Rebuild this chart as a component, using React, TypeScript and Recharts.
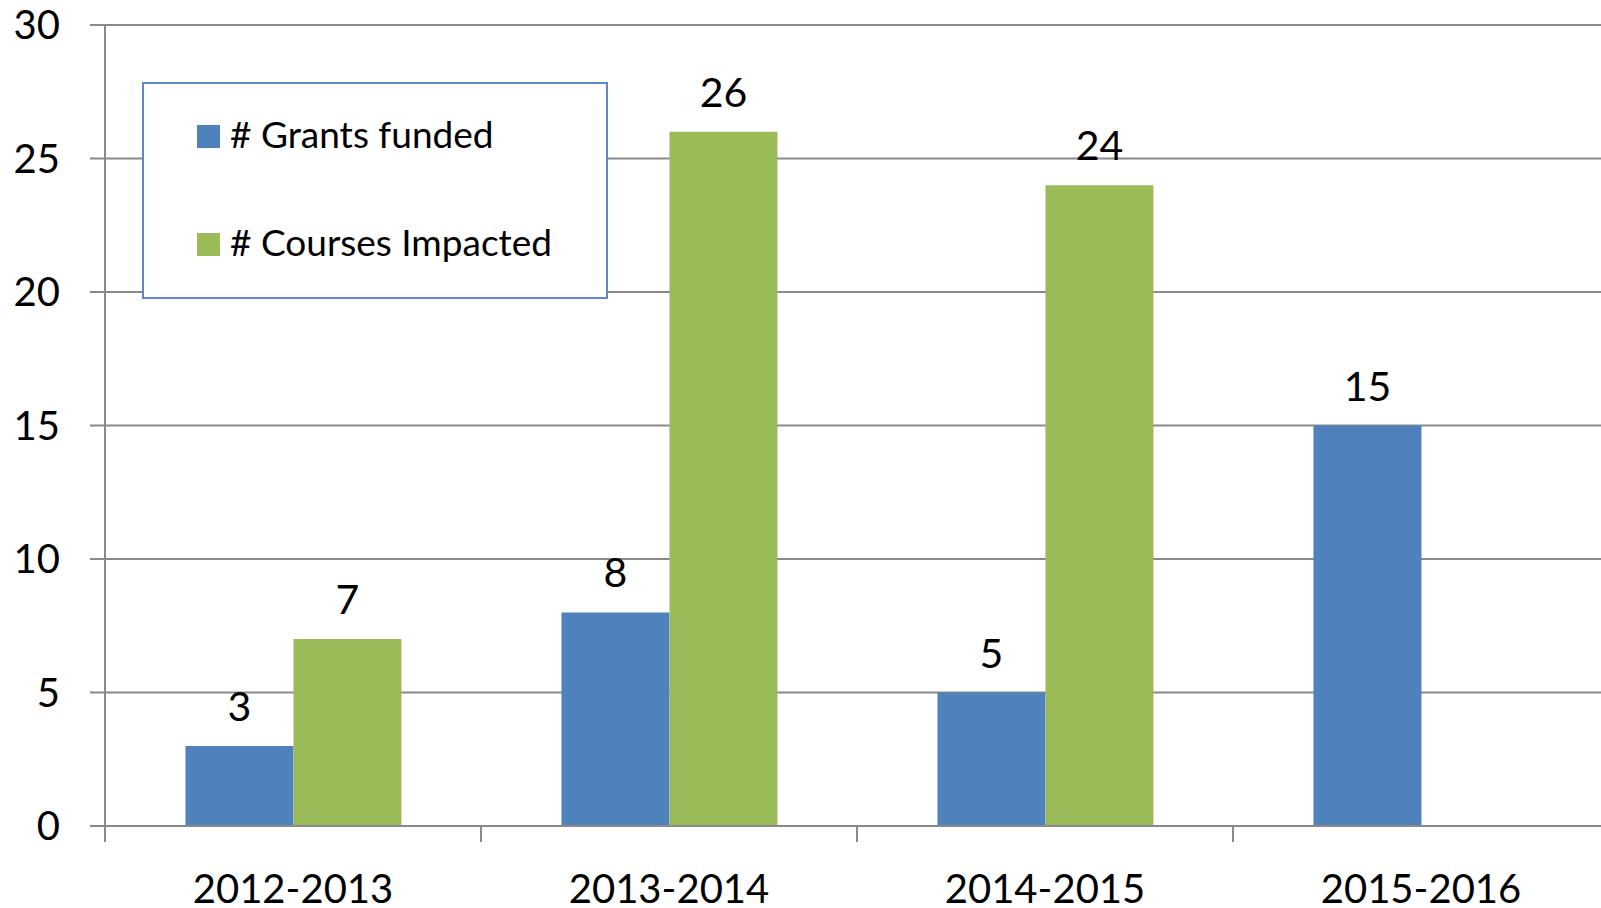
import { BarChart, Bar, XAxis, YAxis, CartesianGrid, Legend, LabelList } from 'recharts'

const categories = ['2012-2013', '2013-2014', '2014-2015', '2015-2016']
const grantsFunded = [3, 8, 5, 15]
const coursesImpacted: (number | null)[] = [7, 26, 24, null]
const yTicks = [0, 5, 10, 15, 20, 25, 30]
const seriesOrder = ['grants', 'courses']

const data = categories.map((label, i) => ({
  label,
  grants: grantsFunded[i],
  courses: coursesImpacted[i],
}))

const BLUE = '#4F81BD'
const GREEN = '#9BBB59'
const AXIS = '#898989'
const FONT = 'Lato, "Open Sans", sans-serif'

function CategoryTick(props: any) {
  const { x, y, payload } = props
  const half = payload?.offset ?? 0
  return (
    <g>
      <line x1={x - half} x2={x - half} y1={y} y2={y + 16} stroke={AXIS} strokeWidth={2} />
      <text x={x} y={y + 77} textAnchor="middle" fontSize={40} fill="#000" fontFamily={FONT}>
        {payload.value}
      </text>
    </g>
  )
}

function ValueLabel(props: any) {
  const { x, y, width, value } = props
  if (value == null) return null
  return (
    <text x={x + width / 2} y={y - 25} textAnchor="middle" fontSize={41} fill="#000" fontFamily={FONT}>
      {value}
    </text>
  )
}

function LegendBox({ payload }: any) {
  // keep the series order of the bars, not alphabetical
  const items = [...(payload || [])].sort(
    (a: any, b: any) => seriesOrder.indexOf(a.dataKey) - seriesOrder.indexOf(b.dataKey)
  )
  return (
    <div
      style={{
        boxSizing: 'border-box',
        width: 466,
        height: 217,
        border: '2px solid #5B8AC6',
        background: '#fff',
        position: 'relative',
        fontFamily: FONT,
      }}
    >
      {items.map((p: any, i: number) => (
        <div
          key={p.value}
          style={{
            position: 'absolute',
            left: 53,
            top: 41 + i * 108,
            height: 23,
            display: 'flex',
            alignItems: 'center',
            whiteSpace: 'nowrap',
          }}
        >
          <span style={{ width: 23, height: 23, background: p.color, display: 'inline-block' }} />
          <span style={{ marginLeft: 10, fontSize: 37, color: '#000', lineHeight: '23px', position: 'relative', top: -3 }}>
            {p.value}
          </span>
        </div>
      ))}
    </div>
  )
}

export default function App() {
  return (
    <div style={{ position: 'absolute', left: 0, top: 0, width: 1601, height: 908, overflow: 'hidden', background: '#fff' }}>
      <BarChart
        width={1609}
        height={908}
        data={data}
        margin={{ top: 25, right: 0, bottom: 0, left: 0 }}
        barCategoryGap="21.4%"
        barGap={0}
        style={{ fontFamily: FONT }}
      >
        <CartesianGrid horizontal vertical={false} stroke={AXIS} strokeWidth={2} />
        <XAxis
          dataKey="label"
          height={82}
          axisLine={{ stroke: AXIS, strokeWidth: 2 }}
          tickLine={false}
          tickSize={0}
          tickMargin={0}
          tick={<CategoryTick />}
          interval={0}
        />
        <YAxis
          width={105}
          domain={[0, 30]}
          ticks={yTicks}
          axisLine={{ stroke: AXIS, strokeWidth: 2 }}
          tickLine={{ stroke: AXIS, strokeWidth: 2 }}
          tickSize={15}
          tickMargin={30}
          tick={{ fontSize: 40, fill: '#000', fontFamily: FONT }}
        />
        <Legend
          layout="vertical"
          align="center"
          verticalAlign="middle"
          content={<LegendBox />}
          wrapperStyle={{ left: 142, top: 82, width: 466, height: 217 }}
        />
        <Bar dataKey="grants" name="# Grants funded" fill={BLUE} isAnimationActive={false}>
          <LabelList dataKey="grants" content={<ValueLabel />} />
        </Bar>
        <Bar dataKey="courses" name="# Courses Impacted" fill={GREEN} isAnimationActive={false}>
          <LabelList dataKey="courses" content={<ValueLabel />} />
        </Bar>
      </BarChart>
    </div>
  )
}
